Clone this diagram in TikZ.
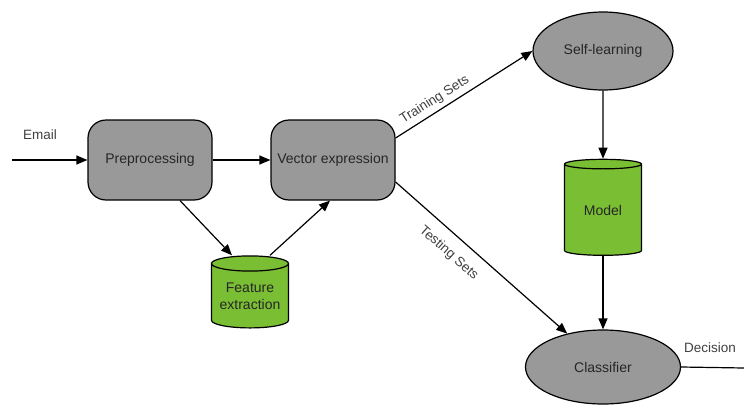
\documentclass[tikz,border=0pt]{standalone}
\usepackage{fontspec}
\setmainfont{Liberation Sans}
\usetikzlibrary{shapes.geometric,arrows.meta}
\definecolor{boxgray}{RGB}{153,153,153}
\definecolor{dbgreen}{RGB}{122,190,52}
\tikzset{
  stepbox/.style={draw, line width=1.2pt, fill=boxgray, rounded corners=18pt,
    minimum width=124pt, minimum height=80pt, inner sep=0pt},
  oval/.style={draw, line width=1.2pt, fill=boxgray, ellipse, inner sep=0pt},
  store/.style={draw, line width=1.2pt, fill=dbgreen, cylinder, shape border rotate=90,
    aspect=0.25, minimum width=77pt, inner sep=0pt, align=center},
  arr/.style={-{Triangle[length=11pt,width=9pt]}, line width=1.2pt},
  lbl/.style={font=\fontsize{13.5}{16}\selectfont, text=black!75}
}
\begin{document}
\begin{tikzpicture}[x=1pt, y=-1pt, font=\fontsize{14}{17}\selectfont, text=black!85]
    \useasboundingbox (0,0) rectangle (744,407);

    \node[stepbox] (pre) at (150,160) {Preprocessing};
    \node[stepbox] (vec) at (333,160) {Vector expression};
    \node[store, minimum height=72pt] (fe) at (250,296) {Feature\\extraction};

    \node[oval, minimum width=140pt, minimum height=78pt] (self) at (603,51) {Self-learning};
    \node[store, minimum height=96pt] (model) at (603,210) {Model};
    \node[oval, minimum width=155pt, minimum height=74pt] (cls) at (603,367) {Classifier};

    \coordinate (in) at (12,160);
    \coordinate (out) at (744,368);

    \node[lbl] (email) at (40,135) {Email};
    \node[lbl] (dec) at (710,348) {Decision};

    \draw[arr] (in) -- (pre);
    \draw[arr] (pre) -- (vec);
    \draw[arr] ([xshift=30pt]pre.south) -- ([xshift=-18pt]fe.north);
    \draw[arr] ([xshift=20pt]fe.north) -- ([xshift=-3pt]vec.south);

    \draw[arr] ([yshift=22pt]vec.east) -- (self.west)
        node[lbl, pos=0.33, sloped, above=1pt] {Training Sets};
    \draw[arr] ([yshift=-22pt]vec.east) -- (cls.137)
        node[lbl, pos=0.38, sloped, below=8pt] {Testing Sets};

    \draw[arr] (self) -- (model);
    \draw[arr] (model) -- (cls);
    \draw[line width=1.2pt] (cls.east) -- (out);
\end{tikzpicture}
\end{document}
